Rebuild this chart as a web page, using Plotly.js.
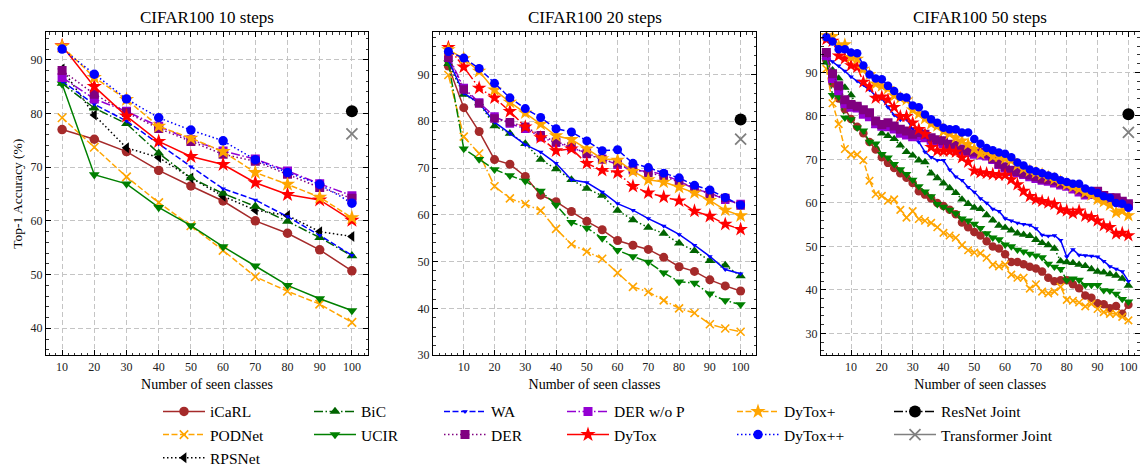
<!DOCTYPE html>
<html>
<head>
<meta charset="utf-8">
<script src="https://cdn.plot.ly/plotly-3.0.1.min.js"></script>
<style>html,body{margin:0;padding:0;background:#fff;}#chart{width:1140px;height:475px;}</style>
</head>
<body>
<div id="chart"></div>
<script>
// ---------------- DATA ----------------
const panelTitles = ['CIFAR100 10 steps', 'CIFAR100 20 steps', 'CIFAR100 50 steps'];
const xTitle = 'Number of seen classes';
const yTitle = 'Top-1 Accuracy (%)';
const xTickVals = [10, 20, 30, 40, 50, 60, 70, 80, 90, 100];

const x10 = [10, 20, 30, 40, 50, 60, 70, 80, 90, 100];
const x20 = [5, 10, 15, 20, 25, 30, 35, 40, 45, 50, 55, 60, 65, 70, 75, 80, 85, 90, 95, 100];
const x50 = [2, 4, 6, 8, 10, 12, 14, 16, 18, 20, 22, 24, 26, 28, 30, 32, 34, 36, 38, 40, 42, 44, 46, 48, 50,
             52, 54, 56, 58, 60, 62, 64, 66, 68, 70, 72, 74, 76, 78, 80, 82, 84, 86, 88, 90, 92, 94, 96, 98, 100];

// 10 steps
const icarl10   = [77.0, 75.2, 72.9, 69.4, 66.5, 63.7, 60.0, 57.7, 54.6, 50.7];
const podnet10  = [79.2, 73.7, 68.2, 63.4, 59.1, 54.5, 49.6, 46.9, 44.5, 41.1];
const rpsnet10  = [88.3, 79.7, 73.6, 71.8, 68.0, 64.6, 62.0, 61.0, 58.0, 57.1];
const bic10     = [85.6, 81.0, 78.1, 72.6, 68.0, 65.1, 62.7, 59.9, 56.9, 53.5];
const ucir10    = [85.5, 68.6, 66.9, 62.5, 59.1, 55.2, 51.6, 48.0, 45.5, 43.3];
const wa10      = [86.0, 81.7, 78.6, 74.3, 70.1, 66.0, 63.9, 60.8, 57.3, 53.6];
const derwop10  = [86.7, 82.7, 80.4, 77.6, 75.1, 73.0, 71.5, 69.3, 66.9, 64.7];
const der10     = [88.0, 83.6, 80.2, 77.2, 74.8, 72.4, 71.1, 68.7, 66.2, 64.2];
const dytox10   = [92.6, 85.0, 79.5, 74.8, 72.0, 70.5, 67.1, 64.9, 63.9, 60.1];
const dytoxp10  = [92.5, 86.7, 82.6, 77.6, 75.4, 72.9, 69.0, 66.8, 64.4, 60.6];
const dytoxpp10 = [92.0, 87.3, 82.7, 79.2, 76.9, 74.9, 71.4, 69.0, 66.8, 63.3];

// 20 steps
const icarl20   = [91.8, 82.9, 77.8, 71.8, 70.8, 68.2, 64.2, 62.8, 60.7, 58.6, 56.8, 54.5, 53.5, 52.6, 50.9, 48.9, 47.9, 46.1, 44.8, 43.7];
const podnet20  = [89.9, 76.7, 73.1, 66.1, 63.5, 62.3, 60.9, 57.0, 53.7, 52.1, 50.6, 47.6, 44.6, 43.5, 41.7, 40.0, 39.0, 36.6, 35.7, 35.0];
const bic20     = [92.3, 85.7, 83.9, 79.0, 77.4, 75.2, 71.8, 69.8, 67.5, 65.6, 64.1, 60.9, 58.9, 57.3, 56.0, 53.9, 52.3, 50.2, 49.2, 46.9];
const ucir20    = [92.5, 74.1, 71.9, 69.7, 68.4, 67.2, 65.1, 62.1, 58.4, 57.2, 55.0, 52.4, 51.1, 49.9, 47.6, 45.7, 45.4, 43.1, 41.7, 40.8];
const wa20      = [93.0, 86.0, 83.9, 79.8, 77.4, 75.0, 73.4, 71.0, 67.5, 66.9, 64.9, 62.4, 61.0, 59.2, 57.6, 55.8, 53.5, 51.1, 48.3, 47.4];
const derwop20  = [94.0, 87.1, 84.0, 81.0, 79.5, 78.4, 76.6, 75.4, 74.4, 73.2, 72.0, 70.7, 69.5, 69.3, 68.6, 67.2, 65.5, 64.7, 63.2, 62.3];
const der20     = [93.6, 86.8, 83.8, 80.6, 79.8, 78.8, 77.0, 75.6, 74.6, 73.0, 71.8, 71.0, 69.8, 69.0, 68.2, 67.0, 65.8, 64.4, 63.6, 62.0];
const dytox20   = [95.8, 91.6, 87.1, 85.0, 82.1, 78.8, 76.5, 73.7, 74.1, 71.0, 69.5, 69.0, 66.1, 64.7, 63.8, 63.0, 60.8, 59.7, 58.0, 56.9];
const dytoxp20  = [95.3, 93.4, 90.7, 86.7, 84.1, 81.8, 79.4, 76.9, 76.1, 74.1, 72.0, 71.7, 69.3, 67.5, 67.0, 65.9, 64.7, 63.1, 61.0, 59.8];
const dytoxpp20 = [94.9, 93.5, 91.3, 88.1, 85.0, 82.7, 80.8, 78.4, 77.7, 75.8, 73.7, 73.9, 71.0, 70.1, 68.9, 67.9, 66.3, 65.3, 63.7, 62.1];

// 50 steps
const icarl50   = [92.8, 87.5, 84.0, 81.5, 79.3, 77.5, 76.0, 74.0, 72.3, 70.5, 69.2, 68.0, 66.8, 65.8, 64.6, 62.7, 61.9, 61.0, 60.0, 59.3, 58.4, 57.4, 55.5, 54.4, 53.3,
                   52.5, 51.2, 50.0, 49.5, 48.2, 46.4, 46.4, 45.9, 45.3, 44.9, 44.2, 42.8, 42.0, 42.2, 42.2, 41.3, 40.4, 38.7, 38.2, 36.9, 36.7, 35.8, 36.3, 34.5, 36.6];
const podnet50  = [90.8, 82.9, 78.1, 72.4, 71.1, 71.1, 69.8, 65.1, 62.0, 61.6, 60.5, 60.8, 58.4, 56.6, 58.1, 56.3, 55.9, 55.4, 54.4, 53.1, 52.5, 52.0, 50.3, 49.1, 48.6,
                   48.4, 47.4, 45.8, 45.4, 45.8, 43.5, 42.8, 42.8, 40.3, 41.3, 39.6, 39.2, 39.6, 40.7, 37.7, 37.5, 37.1, 36.2, 36.8, 35.6, 34.9, 34.5, 34.5, 33.8, 33.0];
const bic50     = [92.3, 90.5, 88.6, 86.5, 84.8, 82.2, 80.7, 79.6, 77.7, 76.0, 75.4, 74.7, 73.2, 71.7, 70.9, 69.8, 69.4, 66.8, 65.7, 64.5, 63.4, 62.3, 60.8, 59.8, 58.9,
                   58.6, 57.2, 56.0, 54.8, 54.3, 53.7, 53.0, 52.7, 52.4, 51.5, 50.8, 50.3, 49.5, 46.6, 46.4, 46.2, 45.8, 45.5, 44.8, 44.2, 44.0, 43.6, 43.3, 42.6, 41.0];
const ucir50    = [92.7, 84.8, 84.4, 79.6, 79.2, 77.3, 76.6, 74.0, 73.6, 71.2, 70.4, 68.9, 67.7, 66.6, 65.3, 63.8, 62.6, 61.5, 59.7, 59.1, 58.4, 57.6, 56.4, 55.9, 55.2,
                   54.2, 53.0, 52.0, 51.6, 50.4, 50.0, 49.2, 48.8, 48.3, 47.9, 47.5, 46.0, 45.3, 44.8, 42.2, 42.6, 42.3, 41.1, 41.1, 41.1, 39.9, 39.8, 39.1, 37.9, 37.3];
const wa50      = [93.5, 92.5, 91.5, 90.3, 89.0, 88.0, 87.2, 86.0, 84.6, 84.0, 82.0, 80.2, 79.1, 79.2, 77.0, 74.0, 71.7, 70.5, 69.8, 69.8, 67.6, 66.0, 65.2, 63.6, 62.5,
                   61.0, 60.0, 58.6, 58.1, 56.4, 55.9, 55.4, 55.1, 54.9, 54.1, 52.6, 52.4, 52.5, 51.4, 47.6, 49.3, 48.0, 47.9, 47.8, 47.6, 46.6, 45.4, 44.8, 44.2, 42.0];
const derwop50  = [93.8, 88.6, 85.8, 82.8, 82.0, 81.8, 80.4, 79.8, 78.2, 77.6, 77.5, 77.0, 76.0, 75.6, 75.2, 75.4, 75.0, 74.4, 74.0, 73.6, 73.0, 72.6, 72.0, 71.6, 71.2,
                   71.0, 70.8, 70.0, 68.8, 68.0, 67.2, 66.9, 66.5, 66.0, 65.6, 65.2, 65.0, 64.6, 64.1, 63.8, 63.2, 62.5, 61.8, 61.9, 62.2, 61.3, 60.8, 60.6, 60.0, 59.4];
const der50     = [94.6, 89.7, 86.9, 83.7, 82.6, 82.2, 81.4, 80.7, 78.8, 78.0, 78.4, 77.7, 76.9, 76.5, 75.8, 76.2, 75.8, 75.0, 74.5, 74.3, 73.5, 73.2, 72.4, 72.0, 71.7,
                   71.6, 71.3, 70.2, 69.0, 68.3, 67.5, 67.2, 66.8, 66.4, 66.0, 65.5, 65.3, 65.1, 64.5, 64.3, 63.8, 63.0, 62.3, 62.3, 62.7, 61.7, 61.2, 61.2, 60.4, 59.8];
const dytox50   = [97.6, 97.2, 93.8, 93.2, 91.6, 91.2, 87.8, 86.7, 84.1, 84.4, 83.7, 82.0, 79.9, 79.9, 78.4, 76.9, 75.8, 72.8, 72.0, 71.9, 71.9, 71.7, 70.4, 69.4, 67.4,
                   67.0, 66.8, 66.6, 66.4, 66.4, 65.4, 64.2, 62.7, 61.5, 60.8, 60.4, 60.0, 59.7, 58.5, 58.2, 57.6, 58.2, 57.0, 56.7, 55.9, 54.8, 54.4, 52.9, 53.1, 52.5];
const dytoxp50  = [98.5, 98.3, 96.1, 96.4, 93.5, 93.1, 90.8, 89.5, 87.4, 86.9, 86.3, 84.7, 84.1, 83.7, 81.4, 80.5, 79.4, 78.2, 77.7, 76.5, 75.9, 75.0, 74.3, 73.5, 72.4,
                   71.3, 71.7, 70.7, 70.7, 70.2, 69.8, 68.7, 67.9, 67.4, 67.0, 66.6, 66.0, 65.5, 64.9, 64.2, 63.7, 63.2, 62.4, 61.8, 60.8, 60.3, 59.5, 57.8, 58.2, 57.1];
const dytoxpp50 = [98.1, 97.1, 95.3, 95.3, 94.6, 94.4, 91.6, 89.5, 88.6, 88.4, 86.9, 85.7, 84.4, 84.2, 82.4, 82.0, 80.3, 79.2, 78.4, 77.3, 76.9, 76.9, 76.2, 76.2, 74.7,
                   73.6, 72.6, 72.1, 71.6, 71.3, 70.5, 69.3, 68.6, 67.7, 67.3, 66.8, 66.3, 66.0, 65.2, 64.8, 64.4, 64.4, 63.3, 62.8, 62.3, 61.5, 61.2, 60.0, 59.8, 58.9];

// joint training references (at 100 classes)
const jointX = [100];
const resnetJoint = [80.4];
const transformerJoint = [76.2];

// ---------------- STYLE ----------------
const FONT = '"Liberation Serif", "Times New Roman", "DejaVu Serif", serif';
const DASH = {solid: 'solid', dash: '6px,2.5px', dot: '1.5px,2.5px', dashdot: '9px,2.5px,1.5px,2.5px'};

const series = [
  {name: 'iCaRL',     data: [icarl10, icarl20, icarl50],       color: '#a52a2a', symbol: 'circle',        dash: ['solid', 'solid', 'solid'],       leg: 'legend'},
  {name: 'PODNet',    data: [podnet10, podnet20, podnet50],    color: '#ffa500', symbol: 'x-thin',        dash: ['dash', 'dashdot', 'dash'],       leg: 'legend'},
  {name: 'RPSNet',    data: [rpsnet10, null, null],            color: '#000000', symbol: 'triangle-left', dash: ['dot', 'dot', 'dot'],             leg: 'legend'},
  {name: 'BiC',       data: [bic10, bic20, bic50],             color: '#006400', symbol: 'triangle-up',   dash: ['dashdot', 'dot', 'dot'],         leg: 'legend2'},
  {name: 'UCIR',      data: [ucir10, ucir20, ucir50],          color: '#008000', symbol: 'triangle-down', dash: ['solid', 'dashdot', 'dashdot'],   leg: 'legend2'},
  {name: 'WA',        data: [wa10, wa20, wa50],                color: '#0000ff', symbol: 'triangle-down', dash: ['dash', 'solid', 'solid'],        leg: 'legend3', small: true},
  {name: 'DER w/o P', data: [derwop10, derwop20, derwop50],    color: '#9400d3', symbol: 'square',        dash: ['dashdot', 'dashdot', 'dashdot'], leg: 'legend4'},
  {name: 'DER',       data: [der10, der20, der50],             color: '#800080', symbol: 'square',        dash: ['dot', 'dot', 'dot'],             leg: 'legend3'},
  {name: 'DyTox',     data: [dytox10, dytox20, dytox50],       color: '#ff0000', symbol: 'star',          dash: ['solid', 'dashdot', 'dashdot'],   leg: 'legend4'},
  {name: 'DyTox+',    data: [dytoxp10, dytoxp20, dytoxp50],    color: '#ffa500', symbol: 'star',          dash: ['dash', 'solid', 'dash'],         leg: 'legend5'},
  {name: 'DyTox++',   data: [dytoxpp10, dytoxpp20, dytoxpp50], color: '#0000ff', symbol: 'circle',        dash: ['dot', 'dash', 'dash'],           leg: 'legend5'}
];
const xs = [x10, x20, x50];
const markerSize = [9.5, 9, 8.5];
const axisIds = ['', '2', '3'];

const traces = [];
for (let p = 0; p < 3; p++) {
  for (const s of series) {
    const y = s.data[p];
    if (!y) continue;
    let size = s.small ? 5 : markerSize[p];
    if (s.symbol === 'star') size += 2;
    if (s.symbol === 'square') size += (p === 2 ? 0.5 : -0.5);
    const marker = {symbol: s.symbol, size: size, color: s.color, line: {width: 0, color: s.color}};
    if (s.symbol === 'x-thin') { marker.line = {width: 1.6, color: s.color}; marker.size = size - 1; }
    traces.push({
      type: 'scatter', mode: 'lines+markers', name: s.name,
      x: xs[p], y: y,
      xaxis: 'x' + axisIds[p], yaxis: 'y' + axisIds[p],
      line: {color: s.color, width: 1.5, dash: DASH[s.dash[p]]},
      marker: marker,
      legend: s.leg, showlegend: p === 0, legendgroup: s.name,
      hoverinfo: 'x+y+name'
    });
  }
  traces.push({
    type: 'scatter', mode: 'lines+markers', name: 'ResNet Joint', x: jointX, y: resnetJoint,
    xaxis: 'x' + axisIds[p], yaxis: 'y' + axisIds[p],
    line: {color: '#000000', width: 1.5, dash: DASH.dashdot},
    marker: {symbol: 'circle', size: 12, color: '#000000'},
    legend: 'legend6', showlegend: p === 0, legendgroup: 'ResNet Joint'
  });
  traces.push({
    type: 'scatter', mode: 'lines+markers', name: 'Transformer Joint', x: jointX, y: transformerJoint,
    xaxis: 'x' + axisIds[p], yaxis: 'y' + axisIds[p],
    line: {color: '#808080', width: 1.5, dash: 'solid'},
    marker: {symbol: 'x-thin', size: 11, color: '#808080', line: {width: 1.8, color: '#808080'}},
    legend: 'legend6', showlegend: p === 0, legendgroup: 'Transformer Joint'
  });
}

// ---------------- LAYOUT ----------------
const W = 1140, H = 475;
const yDom = [(H - 362) / H, (H - 33) / H];
const xDoms = [[46 / W, 368 / W], [433 / W, 756 / W], [821 / W, 1139.5 / W]];
const xRanges = [[5, 105], [0, 105], [0.26, 103.6]];
const yRanges = [[35, 95.1], [30, 99], [25, 99.2]];

function axisBase() {
  return {
    showline: true, linecolor: '#000', linewidth: 1, mirror: 'allticks',
    ticks: 'inside', ticklen: 5, tickwidth: 1, tickcolor: '#000',
    showgrid: true, gridcolor: '#c4c4c4', gridwidth: 1, griddash: '5px,3px',
    zeroline: false, automargin: false,
    tickfont: {family: FONT, size: 12, color: '#222'},
    minor: {ticks: 'inside', ticklen: 2.5, tickwidth: 0.8, tickcolor: '#000', dtick: 2, tick0: 0, showgrid: false}
  };
}

const layout = {
  width: W, height: H,
  margin: {l: 0, r: 0, t: 0, b: 0},
  paper_bgcolor: '#fff', plot_bgcolor: '#fff',
  font: {family: FONT, color: '#000'},
  showlegend: true,
  annotations: []
};

for (let p = 0; p < 3; p++) {
  const xa = axisBase();
  Object.assign(xa, {domain: xDoms[p], range: xRanges[p], tickmode: 'array', tickvals: xTickVals,
    anchor: 'y' + axisIds[p],
    title: {text: xTitle, font: {family: FONT, size: 14, color: '#000'}, standoff: 6}});
  const ya = axisBase();
  Object.assign(ya, {domain: yDom, range: yRanges[p], dtick: 10, tick0: 0, anchor: 'x' + axisIds[p]});
  if (p === 0) ya.title = {text: yTitle, font: {family: FONT, size: 13.5, color: '#000'}, standoff: 4};
  layout['xaxis' + axisIds[p]] = xa;
  layout['yaxis' + axisIds[p]] = ya;
  layout.annotations.push({
    text: panelTitles[p], xref: 'paper', yref: 'paper',
    x: (xDoms[p][0] + xDoms[p][1]) / 2, y: (H - 18) / H, xanchor: 'center', yanchor: 'middle',
    showarrow: false, font: {family: FONT, size: 17, color: '#000'}
  });
}

const legendX = [158, 309, 439, 562, 732, 889];
const legendNames = ['legend', 'legend2', 'legend3', 'legend4', 'legend5', 'legend6'];
legendNames.forEach((ln, i) => {
  layout[ln] = {
    x: legendX[i] / W, y: (H - 402.5) / H, xanchor: 'left', yanchor: 'top',
    orientation: 'v', bgcolor: 'rgba(0,0,0,0)', borderwidth: 0,
    font: {family: FONT, size: 15.5, color: '#000'}, itemwidth: 42,
    traceorder: 'normal', tracegroupgap: 0
  };
});

Plotly.newPlot('chart', traces, layout, {staticPlot: true, displayModeBar: false});
</script>
</body>
</html>
